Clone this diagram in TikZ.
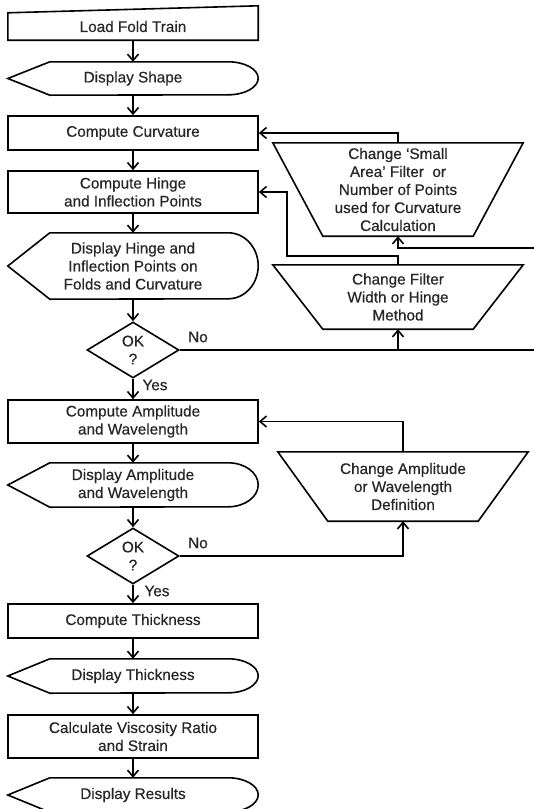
\documentclass[tikz,border=0pt]{standalone}
\usepackage{fontspec}
\setmainfont{Liberation Sans}
\newfontfamily\diafont{Liberation Sans}[FakeBold=0.5]
\usetikzlibrary{arrows.meta,shapes.geometric,calc}
\newcommand\mydisp[2]{\draw[outl] (#1.west) -- ([xshift=42pt]#1.north west) -- ([xshift=-30pt]#1.north east) arc[start angle=90,end angle=-90,x radius=30pt,y radius=#2] -- ([xshift=42pt]#1.south west) -- cycle;}
\newcommand\mytrap[2]{\draw[outl] (#1.north west) -- (#1.north east) -- ([xshift=-#2]#1.south east) -- ([xshift=#2]#1.south west) -- cycle;}
\begin{document}
\begin{tikzpicture}[x=1pt,y=1pt,
  lw/.style={line width=1.6pt},
  txt/.style={font=\diafont\fontsize{15.3pt}{18pt}\selectfont, align=center, inner sep=0pt, text=black!85},
  procbox/.style={txt, draw, lw, minimum width=250pt},
  plain/.style={txt, minimum width=250pt},
  outl/.style={draw, lw, line join=miter},
  arr/.style={lw, -{Straight Barb[length=6.5pt,width=11pt]}},
  lbl/.style={font=\diafont\fontsize{15.3pt}{18pt}\selectfont, inner sep=0pt, text=black!85},
]
\useasboundingbox (0,0) rectangle (534,-809);
\clip (0,0) rectangle (534,-809);

% main column
\node[plain, minimum height=27pt] (load) at (133,-26.5) {Load Fold Train};
\draw[outl] (load.south west) -- (load.south east) -- ([yshift=7pt]load.north east) -- (load.north west) -- cycle;

\node[plain, minimum height=33pt] (ds) at (133,-78.5) {Display Shape};
\mydisp{ds}{16.5pt}

\node[procbox, minimum height=34pt] (cc) at (133,-133) {Compute Curvature};
\node[procbox, minimum height=42pt] (ch) at (133,-192) {Compute Hinge\\and Inflection Points};

\node[plain, minimum height=66pt] (dh) at (133,-266) {Display Hinge and\\Inflection Points on\\Folds and Curvature};
\mydisp{dh}{33pt}

\node[txt, draw, lw, diamond, aspect=1.64, minimum width=92pt, minimum height=56pt] (d1) at (133,-350) {OK\\?};

\node[procbox, minimum height=43pt] (ca) at (133,-421.5) {Compute Amplitude\\and Wavelength};

\node[plain, minimum height=44pt] (da) at (133,-485) {Display Amplitude\\and Wavelength};
\mydisp{da}{22pt}

\node[txt, draw, lw, diamond, aspect=1.64, minimum width=92pt, minimum height=56pt] (d2) at (133,-556) {OK\\?};

\node[procbox, minimum height=34pt] (ct) at (133,-621) {Compute Thickness};

\node[plain, minimum height=34pt] (dt) at (133,-676) {Display Thickness};
\mydisp{dt}{17pt}

\node[procbox, minimum height=43pt] (cv) at (133,-736.5) {Calculate Viscosity Ratio\\and Strain};

\node[plain, minimum height=34pt] (dr) at (133,-795) {Display Results};
\mydisp{dr}{17pt}

% right column
\node[plain, minimum height=93pt] (t1) at (398,-189.5) {Change ‘Small\\Area’ Filter\ \ or\\Number of Points\\used for Curvature\\Calculation};
\mytrap{t1}{50pt}

\node[plain, minimum height=64pt] (t2) at (398,-297) {Change Filter\\Width or Hinge\\Method};
\mytrap{t2}{50pt}

\node[plain, minimum height=69pt] (t3) at (403,-486.5) {Change Amplitude\\or Wavelength\\Definition};
\mytrap{t3}{50pt}

% main flow
\foreach \a/\b in {load/ds, ds/cc, cc/ch, ch/dh, dh/d1, d1/ca, ca/da, da/d2, d2/ct, ct/dt, dt/cv, cv/dr}
  \draw[arr] (\a.south) -- (\b.north);

% feedback loops
\draw[arr] (t1.north) |- (cc.east);
\coordinate (j1) at (287,-256);
\draw[arr] (t2.north) |- (j1) |- (ch.east);
\coordinate (r1) at (540,-350);
\coordinate (r2) at (540,-248);
\draw[arr] (d1.east) -- (r1) -- (r2) -| (t1.south);
\draw[arr] (t2.south |- d1.east) -- (t2.south);
\draw[arr] (t3.north) |- (ca.east);
\draw[arr] (d2.east) -| (t3.south);

% labels
\node[lbl] (no1) at (198,-337) {No};
\node[lbl] (yes1) at (155,-385) {Yes};
\node[lbl] (no2) at (198,-543) {No};
\node[lbl] (yes2) at (157,-591) {Yes};
\end{tikzpicture}
\end{document}
